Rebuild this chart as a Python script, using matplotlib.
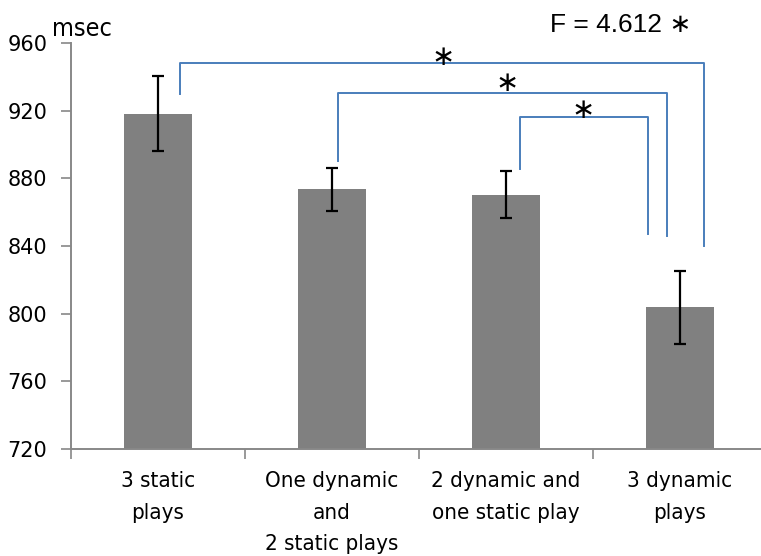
import matplotlib.pyplot as plt
import numpy as np

# reaction times (msec) per play condition
categories = ["3 static\nplays", "One dynamic\nand\n2 static plays",
              "2 dynamic and\none static play", "3 dynamic\nplays"]
means = [918.2, 873.6, 870.3, 803.9]
errors = [22.2, 12.7, 14.0, 21.6]
yticks = [720, 760, 800, 840, 880, 920, 960]

# significance brackets: (left x, right x, bar height, left foot, right foot)
brackets = [(0.126, 3.138, 948.2, 930.0, 840.2),
            (1.034, 2.925, 930.4, 890.4, 845.8),
            (2.080, 2.816, 916.3, 885.5, 846.8)]
star_pos = [(1.638, 951.5), (2.006, 936.5), (2.443, 920.5)]
f_text = "F = 4.612 \u2217"

plt.rcParams["font.family"] = ["DejaVu Sans"]

fig = plt.figure(figsize=(7.61, 5.56), dpi=100)
ax = fig.add_axes([71 / 761, 107 / 556, 696 / 761, 406 / 556])

x = np.arange(len(means))
ax.bar(x, means, width=0.39, color="#808080",
       yerr=errors, capsize=4.5,
       error_kw=dict(ecolor="black", elinewidth=1.6, capthick=1.6))

blue = "#4a7ebb"
for xl, xr, top, fl, fr in brackets:
    ax.plot([xl, xl, xr, xr], [fl, top, top, fr], color=blue, lw=1.4,
            clip_on=False)
for sx, sy in star_pos:
    ax.text(sx, sy, "\u2217", ha="center", va="center", fontsize=20)

ax.set_xlim(-0.5, 3.5)
ax.set_ylim(720, 960)
ax.set_yticks(yticks)
ax.set_yticklabels([str(v) for v in yticks], fontsize=15)

ax.set_xticks(x)
ax.set_xticklabels(categories, linespacing=1.72, fontsize=16,
                   fontstretch="condensed")
ax.set_xticks(np.arange(-0.5, 3.6, 1), minor=True)
ax.tick_params(axis="x", which="major", length=0, pad=16)
ax.tick_params(axis="x", which="minor", length=7, width=1.2, color="#888888",
               direction="out")
ax.tick_params(axis="y", length=7, width=1.2, color="#888888", pad=10)

for s in ["top", "right"]:
    ax.spines[s].set_visible(False)
for s in ["left", "bottom"]:
    ax.spines[s].set_color("#888888")
    ax.spines[s].set_linewidth(1.4)

fig.text(52 / 761, 1 - 29 / 556, "msec", fontsize=18, va="center", ha="left",
         fontstretch="condensed")
fig.text(550 / 761, 1 - 25 / 556, f_text, fontsize=19, va="center", ha="left",
         family=["Liberation Sans", "DejaVu Sans"])

fig.savefig("out.png", dpi=100)
